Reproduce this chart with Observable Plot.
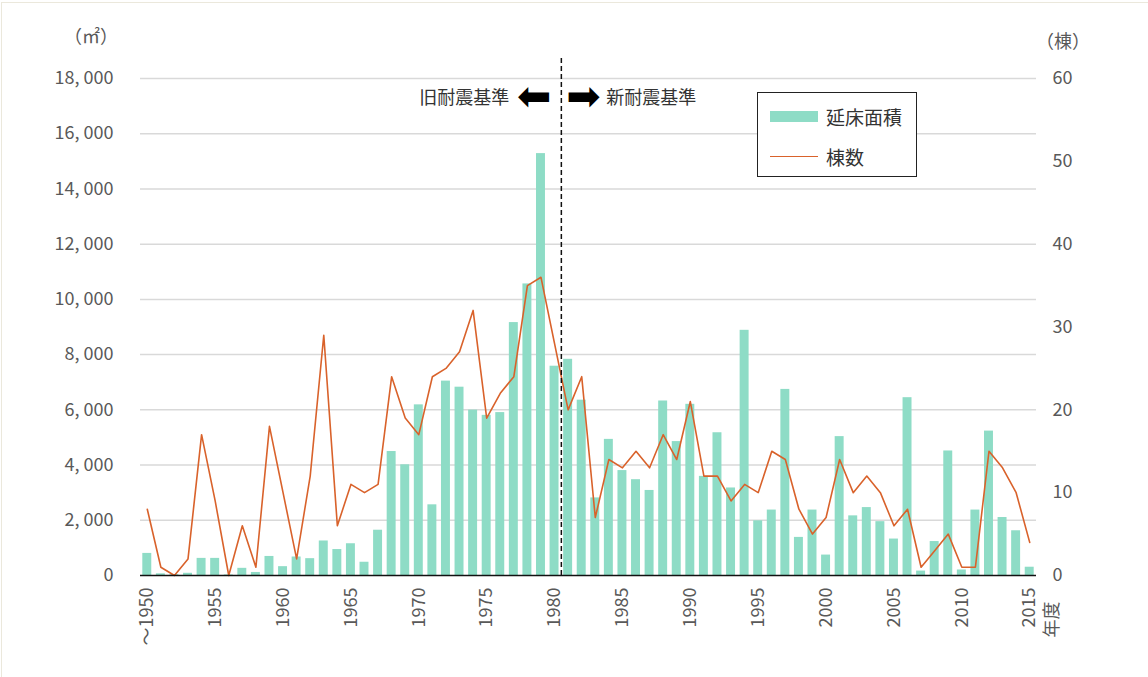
<!DOCTYPE html>
<html>
<head>
<meta charset="utf-8">
<script src="https://cdn.jsdelivr.net/npm/d3@7"></script>
<script src="https://cdn.jsdelivr.net/npm/@observablehq/plot@0.6"></script>
<style>
  html, body { margin: 0; padding: 0; background: #fff; }
  #wrap { position: relative; width: 1148px; height: 677px; overflow: hidden;
          font-family: 'Noto Sans CJK JP', 'Noto Sans', sans-serif; color: #595959; }
  #frame { position: absolute; left: 1px; top: 2px; width: 1200px; height: 700px;
           border-left: 1px solid #ebe8dc; border-top: 1px solid #ebe8dc; pointer-events: none; }
  .unit { position: absolute; font-size: 18px; color: #595959; white-space: nowrap; }
  #legend { position: absolute; left: 757px; top: 92px; width: 158px; height: 83px;
            border: 1px solid #222; background: #fff; }
  #legend .row { position: absolute; left: 12px; display: flex; align-items: center;
                 font-size: 19px; color: #333; }
  #legend .sw { width: 48px; height: 11px; background: #8EDCC6; margin-right: 8px; }
  #legend .ln { width: 48px; height: 1.5px; background: #D9622B; margin-right: 8px; }
</style>
</head>
<body>
<div id="wrap">
  <div id="frame"></div>
  <div class="unit" style="left:64px; top:22px;">（㎡）</div>
  <div class="unit" style="left:1036px; top:27px;">（棟）</div>
  <div id="legend">
    <div class="row" style="top:10px;"><div class="sw"></div>延床面積</div>
    <div class="row" style="top:50px;"><div class="ln"></div>棟数</div>
  </div>
</div>
<script>
// ---- data ----
const years = [1950,1951,1952,1953,1954,1955,1956,1957,1958,1959,
               1960,1961,1962,1963,1964,1965,1966,1967,1968,1969,
               1970,1971,1972,1973,1974,1975,1976,1977,1978,1979,
               1980,1981,1982,1983,1984,1985,1986,1987,1988,1989,
               1990,1991,1992,1993,1994,1995,1996,1997,1998,1999,
               2000,2001,2002,2003,2004,2005,2006,2007,2008,2009,
               2010,2011,2012,2013,2014,2015];
const floorArea = [800,60,30,80,620,620,20,260,110,690,
                   320,670,610,1250,940,1150,480,1640,4490,4010,
                   6180,2560,7040,6820,5990,5800,5900,9160,10560,15280,
                   7580,7830,6350,2810,4930,3800,3470,3080,6320,4850,
                   6200,3590,5170,3170,8880,1980,2370,6740,1380,2370,
                   740,5030,2160,2460,1950,1320,6440,160,1230,4510,
                   200,2370,5230,2100,1620,300];
const buildingCount = [8,1,0,2,17,9,0,6,1,18,
                       10,2,12,29,6,11,10,11,24,19,
                       17,24,25,27,32,19,22,24,35,36,
                       28,20,24,7,14,13,15,13,17,14,
                       21,12,12,9,11,10,15,14,8,5,
                       7,14,10,12,10,6,8,1,3,5,
                       1,1,15,13,10,4];
const xTicks = [1950,1955,1960,1965,1970,1975,1980,1985,1990,1995,2000,2005,2010,2015];
const leftTicks = [0,2000,4000,6000,8000,10000,12000,14000,16000,18000];
const rightTicks = [0,10,20,30,40,50,60];
const boundaryYear = 1980.5;
const oldLabel = "旧耐震基準";
const newLabel = "新耐震基準";
const xAxisUnit = "年度";

// ratio between the two axes: 60 棟 ↔ 18,000 ㎡
const ratio = 18000 / 60;

const data = years.map((y, i) => ({year: y, area: floorArea[i], count: buildingCount[i]}));

const fmtLeft = v => d3.format(",")(v).replace(",", ", ");

const chart = Plot.plot({
  width: 1148,
  height: 677,
  marginLeft: 140,
  marginRight: 112,
  marginTop: 78,
  marginBottom: 102,
  style: {fontFamily: "'Noto Sans CJK JP', 'Noto Sans', sans-serif", fontSize: "18px", color: "#595959", background: "transparent"},
  x: {domain: [1949.5, 2015.5]},
  y: {domain: [0, 18000]},
  marks: [
    Plot.gridY(leftTicks.slice(1), {stroke: "#d9d9d9", strokeOpacity: 1, strokeWidth: 1.5}),
    Plot.rectY(data, {x1: d => d.year - 0.33, x2: d => d.year + 0.33, y: "area", fill: "#8EDCC6"}),
    Plot.line(data, {x: "year", y: d => d.count * ratio, stroke: "#D9622B", strokeWidth: 1.6}),
    Plot.ruleY([0], {stroke: "#111", strokeWidth: 1.5}),
    Plot.ruleX([boundaryYear], {y1: 0, y2: 18800, stroke: "#111", strokeWidth: 1.5, strokeDasharray: "5,3", clip: false}),
    Plot.text([boundaryYear], {x: d => d, y: 17300, text: () => oldLabel, textAnchor: "end", dx: -52, fontSize: 18, fill: "#333"}),
    Plot.text([boundaryYear], {x: d => d, y: 17300, text: () => newLabel, textAnchor: "start", dx: 45, fontSize: 18, fill: "#333"}),
    Plot.text([boundaryYear], {x: d => d, y: 17300, text: () => "⬅", textAnchor: "end", dx: -10, dy: -1, fontSize: 41, fill: "#000", fontFamily: "DejaVu Sans"}),
    Plot.text([boundaryYear], {x: d => d, y: 17300, text: () => "➡", textAnchor: "start", dx: 5, dy: -1, fontSize: 41, fill: "#000", fontFamily: "DejaVu Sans"}),
    Plot.axisY({anchor: "left", ticks: leftTicks, tickSize: 0, tickPadding: 27, tickFormat: fmtLeft, label: null}),
    Plot.axisY({anchor: "right", ticks: rightTicks.map(v => v * ratio), tickSize: 0, tickPadding: 16, tickFormat: v => String(v / ratio), label: null}),
    Plot.axisX({anchor: "bottom", ticks: xTicks, tickSize: 0, tickPadding: 12, tickRotate: -90,
                tickFormat: v => v === 1950 ? "～1950" : String(v), label: null}),
    Plot.text([2015], {x: d => d, y: 0, text: () => xAxisUnit, rotate: -90, textAnchor: "end", dx: 23, dy: 26, fontSize: 18, fill: "#595959"})
  ]
});
chart.style.position = "absolute";
chart.style.left = "0px";
chart.style.top = "0px";
document.getElementById("wrap").insertBefore(chart, document.getElementById("frame"));
</script>
</body>
</html>
